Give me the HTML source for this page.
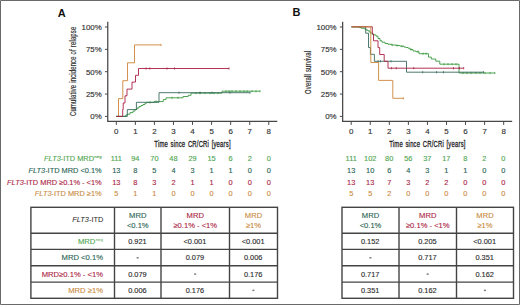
<!DOCTYPE html>
<html><head><meta charset="utf-8"><style>
html,body{margin:0;padding:0;background:#fff;}
body{width:520px;height:305px;overflow:hidden;}
svg{display:block;}
</style></head><body>
<svg width="520" height="305" viewBox="0 0 520 305">
<rect x="0" y="0" width="520" height="305" fill="#fff"/>
<path d="M107.75,21.8V121.3H277.28" fill="none" stroke="#474747" stroke-width="1.25"/>
<path d="M104.95,116.40H107.75" stroke="#474747" stroke-width="1.0"/>
<text x="101.75" y="119.30" text-anchor="end" font-size="7.9" fill="#333" stroke="#333" stroke-width="0.15" font-family="'Liberation Sans', sans-serif">0%</text>
<path d="M104.95,94.05H107.75" stroke="#474747" stroke-width="1.0"/>
<text x="101.75" y="96.95" text-anchor="end" font-size="7.9" fill="#333" stroke="#333" stroke-width="0.15" font-family="'Liberation Sans', sans-serif">25%</text>
<path d="M104.95,71.70H107.75" stroke="#474747" stroke-width="1.0"/>
<text x="101.75" y="74.60" text-anchor="end" font-size="7.9" fill="#333" stroke="#333" stroke-width="0.15" font-family="'Liberation Sans', sans-serif">50%</text>
<path d="M104.95,49.35H107.75" stroke="#474747" stroke-width="1.0"/>
<text x="101.75" y="52.25" text-anchor="end" font-size="7.9" fill="#333" stroke="#333" stroke-width="0.15" font-family="'Liberation Sans', sans-serif">75%</text>
<path d="M104.95,27.00H107.75" stroke="#474747" stroke-width="1.0"/>
<text x="101.75" y="29.90" text-anchor="end" font-size="7.9" fill="#333" stroke="#333" stroke-width="0.15" font-family="'Liberation Sans', sans-serif">100%</text>
<path d="M116.30,121.3V124.9" stroke="#474747" stroke-width="1.0"/>
<text x="116.30" y="134.0" text-anchor="middle" font-size="7.9" fill="#333" stroke="#333" stroke-width="0.15" font-family="'Liberation Sans', sans-serif">0</text>
<path d="M135.36,121.3V124.9" stroke="#474747" stroke-width="1.0"/>
<text x="135.36" y="134.0" text-anchor="middle" font-size="7.9" fill="#333" stroke="#333" stroke-width="0.15" font-family="'Liberation Sans', sans-serif">1</text>
<path d="M154.42,121.3V124.9" stroke="#474747" stroke-width="1.0"/>
<text x="154.42" y="134.0" text-anchor="middle" font-size="7.9" fill="#333" stroke="#333" stroke-width="0.15" font-family="'Liberation Sans', sans-serif">2</text>
<path d="M173.48,121.3V124.9" stroke="#474747" stroke-width="1.0"/>
<text x="173.48" y="134.0" text-anchor="middle" font-size="7.9" fill="#333" stroke="#333" stroke-width="0.15" font-family="'Liberation Sans', sans-serif">3</text>
<path d="M192.54,121.3V124.9" stroke="#474747" stroke-width="1.0"/>
<text x="192.54" y="134.0" text-anchor="middle" font-size="7.9" fill="#333" stroke="#333" stroke-width="0.15" font-family="'Liberation Sans', sans-serif">4</text>
<path d="M211.60,121.3V124.9" stroke="#474747" stroke-width="1.0"/>
<text x="211.60" y="134.0" text-anchor="middle" font-size="7.9" fill="#333" stroke="#333" stroke-width="0.15" font-family="'Liberation Sans', sans-serif">5</text>
<path d="M230.66,121.3V124.9" stroke="#474747" stroke-width="1.0"/>
<text x="230.66" y="134.0" text-anchor="middle" font-size="7.9" fill="#333" stroke="#333" stroke-width="0.15" font-family="'Liberation Sans', sans-serif">6</text>
<path d="M249.72,121.3V124.9" stroke="#474747" stroke-width="1.0"/>
<text x="249.72" y="134.0" text-anchor="middle" font-size="7.9" fill="#333" stroke="#333" stroke-width="0.15" font-family="'Liberation Sans', sans-serif">7</text>
<path d="M268.78,121.3V124.9" stroke="#474747" stroke-width="1.0"/>
<text x="268.78" y="134.0" text-anchor="middle" font-size="7.9" fill="#333" stroke="#333" stroke-width="0.15" font-family="'Liberation Sans', sans-serif">8</text>
<text transform="translate(192.54,146.5) scale(0.68,1)" text-anchor="middle" font-size="8.7" letter-spacing="0.3" word-spacing="1.0" fill="#222" stroke="#222" stroke-width="0.3" font-family="'Liberation Sans', sans-serif">Time since CR/CRi [years]</text>
<text transform="translate(76.45,71.3) rotate(-90) scale(0.68,1)" text-anchor="middle" font-size="8.7" letter-spacing="0.25" word-spacing="0.2" fill="#2a2a2a" stroke="#2a2a2a" stroke-width="0.15" font-family="'Liberation Sans', sans-serif">Cumulative incidence of relapse</text>
<path d="M116.3,116.4H118.5V98.6H122.8V80.7H127.5V62.8H134.5V44.9H161" fill="none" stroke="#cd8639" stroke-width="0.9" stroke-linejoin="miter" stroke-linecap="butt"/>
<path d="M161,43.8V46.0" stroke="#cd8639" stroke-width="0.8"/>
<path d="M116.3,116.4H125.7V115.2H127V114.2H130V112.6H133V111H135V109.5H137V108H139V106.6H141V105.5H143V104.5H145V103.2H146.5V102.4H154V101.6H163.3V99.6H166V97.8H183V96.5H188.2V95.3H191V93.1H222V91.2H260" fill="none" stroke="#3a9a40" stroke-width="0.9" stroke-linejoin="miter" stroke-linecap="butt"/>
<path d="M150,101.30000000000001V103.5" stroke="#3a9a40" stroke-width="0.8"/><path d="M156,100.5V102.69999999999999" stroke="#3a9a40" stroke-width="0.8"/><path d="M172,96.7V98.89999999999999" stroke="#3a9a40" stroke-width="0.8"/><path d="M178,96.7V98.89999999999999" stroke="#3a9a40" stroke-width="0.8"/><path d="M196,92.0V94.19999999999999" stroke="#3a9a40" stroke-width="0.8"/><path d="M200,92.0V94.19999999999999" stroke="#3a9a40" stroke-width="0.8"/><path d="M205,92.0V94.19999999999999" stroke="#3a9a40" stroke-width="0.8"/><path d="M210,92.0V94.19999999999999" stroke="#3a9a40" stroke-width="0.8"/><path d="M214,92.0V94.19999999999999" stroke="#3a9a40" stroke-width="0.8"/><path d="M218,92.0V94.19999999999999" stroke="#3a9a40" stroke-width="0.8"/><path d="M226,90.10000000000001V92.3" stroke="#3a9a40" stroke-width="0.8"/><path d="M229,90.10000000000001V92.3" stroke="#3a9a40" stroke-width="0.8"/><path d="M232,90.10000000000001V92.3" stroke="#3a9a40" stroke-width="0.8"/><path d="M236,90.10000000000001V92.3" stroke="#3a9a40" stroke-width="0.8"/><path d="M240,90.10000000000001V92.3" stroke="#3a9a40" stroke-width="0.8"/><path d="M244,90.10000000000001V92.3" stroke="#3a9a40" stroke-width="0.8"/><path d="M247,90.10000000000001V92.3" stroke="#3a9a40" stroke-width="0.8"/><path d="M252,90.10000000000001V92.3" stroke="#3a9a40" stroke-width="0.8"/><path d="M256,90.10000000000001V92.3" stroke="#3a9a40" stroke-width="0.8"/><path d="M260,90.10000000000001V92.3" stroke="#3a9a40" stroke-width="0.8"/>
<path d="M116.3,116.4H127.3V109.6H136.4V102.3H159V92.7H250" fill="none" stroke="#3a6b60" stroke-width="0.9" stroke-linejoin="miter" stroke-linecap="butt"/>
<path d="M179,91.60000000000001V93.8" stroke="#3a6b60" stroke-width="0.8"/><path d="M200,91.60000000000001V93.8" stroke="#3a6b60" stroke-width="0.8"/><path d="M212,91.60000000000001V93.8" stroke="#3a6b60" stroke-width="0.8"/><path d="M230,91.60000000000001V93.8" stroke="#3a6b60" stroke-width="0.8"/><path d="M250,91.60000000000001V93.8" stroke="#3a6b60" stroke-width="0.8"/>
<path d="M116.3,116.4H122.7V109.5H123.2V103.0H125V95.8H127V89.1H132V82.1H135.5V75.3H138.5V68.5H229" fill="none" stroke="#aa1f45" stroke-width="0.9" stroke-linejoin="miter" stroke-linecap="butt"/>
<path d="M146,67.4V69.6" stroke="#aa1f45" stroke-width="0.8"/><path d="M149.8,67.4V69.6" stroke="#aa1f45" stroke-width="0.8"/><path d="M167,67.4V69.6" stroke="#aa1f45" stroke-width="0.8"/><path d="M174.5,67.4V69.6" stroke="#aa1f45" stroke-width="0.8"/><path d="M229,67.4V69.6" stroke="#aa1f45" stroke-width="0.8"/>
<path d="M342.65,21.8V121.3H512.18" fill="none" stroke="#474747" stroke-width="1.25"/>
<path d="M339.84999999999997,116.40H342.65" stroke="#474747" stroke-width="1.0"/>
<text x="336.65" y="119.30" text-anchor="end" font-size="7.9" fill="#333" stroke="#333" stroke-width="0.15" font-family="'Liberation Sans', sans-serif">0%</text>
<path d="M339.84999999999997,94.05H342.65" stroke="#474747" stroke-width="1.0"/>
<text x="336.65" y="96.95" text-anchor="end" font-size="7.9" fill="#333" stroke="#333" stroke-width="0.15" font-family="'Liberation Sans', sans-serif">25%</text>
<path d="M339.84999999999997,71.70H342.65" stroke="#474747" stroke-width="1.0"/>
<text x="336.65" y="74.60" text-anchor="end" font-size="7.9" fill="#333" stroke="#333" stroke-width="0.15" font-family="'Liberation Sans', sans-serif">50%</text>
<path d="M339.84999999999997,49.35H342.65" stroke="#474747" stroke-width="1.0"/>
<text x="336.65" y="52.25" text-anchor="end" font-size="7.9" fill="#333" stroke="#333" stroke-width="0.15" font-family="'Liberation Sans', sans-serif">75%</text>
<path d="M339.84999999999997,27.00H342.65" stroke="#474747" stroke-width="1.0"/>
<text x="336.65" y="29.90" text-anchor="end" font-size="7.9" fill="#333" stroke="#333" stroke-width="0.15" font-family="'Liberation Sans', sans-serif">100%</text>
<path d="M351.20,121.3V124.9" stroke="#474747" stroke-width="1.0"/>
<text x="351.20" y="134.0" text-anchor="middle" font-size="7.9" fill="#333" stroke="#333" stroke-width="0.15" font-family="'Liberation Sans', sans-serif">0</text>
<path d="M370.26,121.3V124.9" stroke="#474747" stroke-width="1.0"/>
<text x="370.26" y="134.0" text-anchor="middle" font-size="7.9" fill="#333" stroke="#333" stroke-width="0.15" font-family="'Liberation Sans', sans-serif">1</text>
<path d="M389.32,121.3V124.9" stroke="#474747" stroke-width="1.0"/>
<text x="389.32" y="134.0" text-anchor="middle" font-size="7.9" fill="#333" stroke="#333" stroke-width="0.15" font-family="'Liberation Sans', sans-serif">2</text>
<path d="M408.38,121.3V124.9" stroke="#474747" stroke-width="1.0"/>
<text x="408.38" y="134.0" text-anchor="middle" font-size="7.9" fill="#333" stroke="#333" stroke-width="0.15" font-family="'Liberation Sans', sans-serif">3</text>
<path d="M427.44,121.3V124.9" stroke="#474747" stroke-width="1.0"/>
<text x="427.44" y="134.0" text-anchor="middle" font-size="7.9" fill="#333" stroke="#333" stroke-width="0.15" font-family="'Liberation Sans', sans-serif">4</text>
<path d="M446.50,121.3V124.9" stroke="#474747" stroke-width="1.0"/>
<text x="446.50" y="134.0" text-anchor="middle" font-size="7.9" fill="#333" stroke="#333" stroke-width="0.15" font-family="'Liberation Sans', sans-serif">5</text>
<path d="M465.56,121.3V124.9" stroke="#474747" stroke-width="1.0"/>
<text x="465.56" y="134.0" text-anchor="middle" font-size="7.9" fill="#333" stroke="#333" stroke-width="0.15" font-family="'Liberation Sans', sans-serif">6</text>
<path d="M484.62,121.3V124.9" stroke="#474747" stroke-width="1.0"/>
<text x="484.62" y="134.0" text-anchor="middle" font-size="7.9" fill="#333" stroke="#333" stroke-width="0.15" font-family="'Liberation Sans', sans-serif">7</text>
<path d="M503.68,121.3V124.9" stroke="#474747" stroke-width="1.0"/>
<text x="503.68" y="134.0" text-anchor="middle" font-size="7.9" fill="#333" stroke="#333" stroke-width="0.15" font-family="'Liberation Sans', sans-serif">8</text>
<text transform="translate(427.44,146.5) scale(0.68,1)" text-anchor="middle" font-size="8.7" letter-spacing="0.3" word-spacing="1.0" fill="#222" stroke="#222" stroke-width="0.3" font-family="'Liberation Sans', sans-serif">Time since CR/CRi [years]</text>
<text transform="translate(311.35,72.3) rotate(-90) scale(0.68,1)" text-anchor="middle" font-size="8.7" letter-spacing="0.25" word-spacing="0.2" fill="#2a2a2a" stroke="#2a2a2a" stroke-width="0.15" font-family="'Liberation Sans', sans-serif">Overall survival</text>
<path d="M351.5,26.8H359V27.4H361V28.2H364V28.8H366V30H368V31H370V33H372.5V34.5H374V34.9H376V36.2H378V38.5H380V40.8H382V42.2H385V43.5H388V44.3H392V45H396V45.5H400V46.2H404V47H406V47.5H408V48.2H410V49.5H413V51H416V51.7H419V53.7H428.5V57.1H431.3V59H435.8V61.2H439.8V64.2H459V73H494.8" fill="none" stroke="#3a9a40" stroke-width="0.9" stroke-linejoin="miter" stroke-linecap="butt"/>
<path d="M392,43.9V46.1" stroke="#3a9a40" stroke-width="0.8"/><path d="M397,44.4V46.6" stroke="#3a9a40" stroke-width="0.8"/><path d="M402,45.1V47.300000000000004" stroke="#3a9a40" stroke-width="0.8"/><path d="M411,48.4V50.6" stroke="#3a9a40" stroke-width="0.8"/><path d="M418,50.6V52.800000000000004" stroke="#3a9a40" stroke-width="0.8"/><path d="M423,52.6V54.800000000000004" stroke="#3a9a40" stroke-width="0.8"/><path d="M426,52.6V54.800000000000004" stroke="#3a9a40" stroke-width="0.8"/><path d="M444,63.1V65.3" stroke="#3a9a40" stroke-width="0.8"/><path d="M448,63.1V65.3" stroke="#3a9a40" stroke-width="0.8"/><path d="M452,63.1V65.3" stroke="#3a9a40" stroke-width="0.8"/><path d="M456,63.1V65.3" stroke="#3a9a40" stroke-width="0.8"/><path d="M463,71.9V74.1" stroke="#3a9a40" stroke-width="0.8"/><path d="M467,71.9V74.1" stroke="#3a9a40" stroke-width="0.8"/><path d="M471,71.9V74.1" stroke="#3a9a40" stroke-width="0.8"/><path d="M476,71.9V74.1" stroke="#3a9a40" stroke-width="0.8"/><path d="M480,71.9V74.1" stroke="#3a9a40" stroke-width="0.8"/><path d="M485,71.9V74.1" stroke="#3a9a40" stroke-width="0.8"/><path d="M490,71.9V74.1" stroke="#3a9a40" stroke-width="0.8"/><path d="M494.8,71.9V74.1" stroke="#3a9a40" stroke-width="0.8"/>
<path d="M351.5,26.8H365.7V33.2H368.5V47.5H370.4V54.3H374.4V61.3H406.5V72.2H483.5" fill="none" stroke="#3a6b60" stroke-width="0.9" stroke-linejoin="miter" stroke-linecap="butt"/>
<path d="M378.2,60.199999999999996V62.4" stroke="#3a6b60" stroke-width="0.8"/><path d="M380.5,60.199999999999996V62.4" stroke="#3a6b60" stroke-width="0.8"/><path d="M391,60.199999999999996V62.4" stroke="#3a6b60" stroke-width="0.8"/><path d="M422.7,71.10000000000001V73.3" stroke="#3a6b60" stroke-width="0.8"/><path d="M436.5,71.10000000000001V73.3" stroke="#3a6b60" stroke-width="0.8"/><path d="M443.5,71.10000000000001V73.3" stroke="#3a6b60" stroke-width="0.8"/><path d="M483.5,71.10000000000001V73.3" stroke="#3a6b60" stroke-width="0.8"/>
<path d="M351.5,26.8H372.3V33.9H373.5V40.8H378V47.6H379.7V54.5H384.2V61.3H388V68.2H463.7" fill="none" stroke="#aa1f45" stroke-width="0.9" stroke-linejoin="miter" stroke-linecap="butt"/>
<path d="M391.4,67.10000000000001V69.3" stroke="#aa1f45" stroke-width="0.8"/><path d="M396.3,67.10000000000001V69.3" stroke="#aa1f45" stroke-width="0.8"/><path d="M413.8,67.10000000000001V69.3" stroke="#aa1f45" stroke-width="0.8"/><path d="M453.5,67.10000000000001V69.3" stroke="#aa1f45" stroke-width="0.8"/><path d="M459.5,67.10000000000001V69.3" stroke="#aa1f45" stroke-width="0.8"/><path d="M463.7,67.10000000000001V69.3" stroke="#aa1f45" stroke-width="0.8"/>
<path d="M351.5,26.8H370.8V62.5H378.6V80.4H392.8V98.3H403.4" fill="none" stroke="#cd8639" stroke-width="0.9" stroke-linejoin="miter" stroke-linecap="butt"/>
<path d="M403.4,97.2V99.39999999999999" stroke="#cd8639" stroke-width="0.8"/>
<text x="57.7" y="16.5" font-size="11" font-weight="bold" fill="#111" font-family="'Liberation Sans', sans-serif">A</text>
<text x="292.4" y="16.3" font-size="11" font-weight="bold" fill="#111" font-family="'Liberation Sans', sans-serif">B</text>
<text x="101.6" y="161.45" text-anchor="end" font-size="7.4" fill="#4ea64e" stroke="#4ea64e" stroke-width="0.12" font-family="'Liberation Sans', sans-serif"><tspan font-style="italic">FLT3</tspan>-ITD MRD<tspan font-size="4.4" dy="-3" dx="0.2">neg</tspan></text>
<text x="116.30" y="161.45" text-anchor="middle" font-size="7.4" fill="#4ea64e" stroke="#4ea64e" stroke-width="0.12" font-family="'Liberation Sans', sans-serif">111</text>
<text x="135.36" y="161.45" text-anchor="middle" font-size="7.4" fill="#4ea64e" stroke="#4ea64e" stroke-width="0.12" font-family="'Liberation Sans', sans-serif">94</text>
<text x="154.42" y="161.45" text-anchor="middle" font-size="7.4" fill="#4ea64e" stroke="#4ea64e" stroke-width="0.12" font-family="'Liberation Sans', sans-serif">70</text>
<text x="173.48" y="161.45" text-anchor="middle" font-size="7.4" fill="#4ea64e" stroke="#4ea64e" stroke-width="0.12" font-family="'Liberation Sans', sans-serif">48</text>
<text x="192.54" y="161.45" text-anchor="middle" font-size="7.4" fill="#4ea64e" stroke="#4ea64e" stroke-width="0.12" font-family="'Liberation Sans', sans-serif">29</text>
<text x="211.60" y="161.45" text-anchor="middle" font-size="7.4" fill="#4ea64e" stroke="#4ea64e" stroke-width="0.12" font-family="'Liberation Sans', sans-serif">15</text>
<text x="230.66" y="161.45" text-anchor="middle" font-size="7.4" fill="#4ea64e" stroke="#4ea64e" stroke-width="0.12" font-family="'Liberation Sans', sans-serif">6</text>
<text x="249.72" y="161.45" text-anchor="middle" font-size="7.4" fill="#4ea64e" stroke="#4ea64e" stroke-width="0.12" font-family="'Liberation Sans', sans-serif">2</text>
<text x="268.78" y="161.45" text-anchor="middle" font-size="7.4" fill="#4ea64e" stroke="#4ea64e" stroke-width="0.12" font-family="'Liberation Sans', sans-serif">0</text>
<text x="351.20" y="161.45" text-anchor="middle" font-size="7.4" fill="#4ea64e" stroke="#4ea64e" stroke-width="0.12" font-family="'Liberation Sans', sans-serif">111</text>
<text x="370.22" y="161.45" text-anchor="middle" font-size="7.4" fill="#4ea64e" stroke="#4ea64e" stroke-width="0.12" font-family="'Liberation Sans', sans-serif">102</text>
<text x="389.24" y="161.45" text-anchor="middle" font-size="7.4" fill="#4ea64e" stroke="#4ea64e" stroke-width="0.12" font-family="'Liberation Sans', sans-serif">80</text>
<text x="408.26" y="161.45" text-anchor="middle" font-size="7.4" fill="#4ea64e" stroke="#4ea64e" stroke-width="0.12" font-family="'Liberation Sans', sans-serif">56</text>
<text x="427.28" y="161.45" text-anchor="middle" font-size="7.4" fill="#4ea64e" stroke="#4ea64e" stroke-width="0.12" font-family="'Liberation Sans', sans-serif">37</text>
<text x="446.30" y="161.45" text-anchor="middle" font-size="7.4" fill="#4ea64e" stroke="#4ea64e" stroke-width="0.12" font-family="'Liberation Sans', sans-serif">17</text>
<text x="465.32" y="161.45" text-anchor="middle" font-size="7.4" fill="#4ea64e" stroke="#4ea64e" stroke-width="0.12" font-family="'Liberation Sans', sans-serif">8</text>
<text x="484.34" y="161.45" text-anchor="middle" font-size="7.4" fill="#4ea64e" stroke="#4ea64e" stroke-width="0.12" font-family="'Liberation Sans', sans-serif">2</text>
<text x="503.36" y="161.45" text-anchor="middle" font-size="7.4" fill="#4ea64e" stroke="#4ea64e" stroke-width="0.12" font-family="'Liberation Sans', sans-serif">0</text>
<text x="101.6" y="172.95" text-anchor="end" font-size="7.4" fill="#276352" stroke="#276352" stroke-width="0.12" font-family="'Liberation Sans', sans-serif"><tspan font-style="italic">FLT3</tspan>-ITD MRD &lt;0.1%</text>
<text x="116.30" y="172.95" text-anchor="middle" font-size="7.4" fill="#276352" stroke="#276352" stroke-width="0.12" font-family="'Liberation Sans', sans-serif">13</text>
<text x="135.36" y="172.95" text-anchor="middle" font-size="7.4" fill="#276352" stroke="#276352" stroke-width="0.12" font-family="'Liberation Sans', sans-serif">8</text>
<text x="154.42" y="172.95" text-anchor="middle" font-size="7.4" fill="#276352" stroke="#276352" stroke-width="0.12" font-family="'Liberation Sans', sans-serif">5</text>
<text x="173.48" y="172.95" text-anchor="middle" font-size="7.4" fill="#276352" stroke="#276352" stroke-width="0.12" font-family="'Liberation Sans', sans-serif">4</text>
<text x="192.54" y="172.95" text-anchor="middle" font-size="7.4" fill="#276352" stroke="#276352" stroke-width="0.12" font-family="'Liberation Sans', sans-serif">3</text>
<text x="211.60" y="172.95" text-anchor="middle" font-size="7.4" fill="#276352" stroke="#276352" stroke-width="0.12" font-family="'Liberation Sans', sans-serif">1</text>
<text x="230.66" y="172.95" text-anchor="middle" font-size="7.4" fill="#276352" stroke="#276352" stroke-width="0.12" font-family="'Liberation Sans', sans-serif">1</text>
<text x="249.72" y="172.95" text-anchor="middle" font-size="7.4" fill="#276352" stroke="#276352" stroke-width="0.12" font-family="'Liberation Sans', sans-serif">0</text>
<text x="268.78" y="172.95" text-anchor="middle" font-size="7.4" fill="#276352" stroke="#276352" stroke-width="0.12" font-family="'Liberation Sans', sans-serif">0</text>
<text x="351.20" y="172.95" text-anchor="middle" font-size="7.4" fill="#276352" stroke="#276352" stroke-width="0.12" font-family="'Liberation Sans', sans-serif">13</text>
<text x="370.22" y="172.95" text-anchor="middle" font-size="7.4" fill="#276352" stroke="#276352" stroke-width="0.12" font-family="'Liberation Sans', sans-serif">10</text>
<text x="389.24" y="172.95" text-anchor="middle" font-size="7.4" fill="#276352" stroke="#276352" stroke-width="0.12" font-family="'Liberation Sans', sans-serif">6</text>
<text x="408.26" y="172.95" text-anchor="middle" font-size="7.4" fill="#276352" stroke="#276352" stroke-width="0.12" font-family="'Liberation Sans', sans-serif">4</text>
<text x="427.28" y="172.95" text-anchor="middle" font-size="7.4" fill="#276352" stroke="#276352" stroke-width="0.12" font-family="'Liberation Sans', sans-serif">3</text>
<text x="446.30" y="172.95" text-anchor="middle" font-size="7.4" fill="#276352" stroke="#276352" stroke-width="0.12" font-family="'Liberation Sans', sans-serif">1</text>
<text x="465.32" y="172.95" text-anchor="middle" font-size="7.4" fill="#276352" stroke="#276352" stroke-width="0.12" font-family="'Liberation Sans', sans-serif">1</text>
<text x="484.34" y="172.95" text-anchor="middle" font-size="7.4" fill="#276352" stroke="#276352" stroke-width="0.12" font-family="'Liberation Sans', sans-serif">0</text>
<text x="503.36" y="172.95" text-anchor="middle" font-size="7.4" fill="#276352" stroke="#276352" stroke-width="0.12" font-family="'Liberation Sans', sans-serif">0</text>
<text x="101.6" y="184.65" text-anchor="end" font-size="7.4" fill="#ab2443" stroke="#ab2443" stroke-width="0.12" font-family="'Liberation Sans', sans-serif"><tspan font-style="italic">FLT3</tspan>-ITD MRD ≥0.1% - &lt;1%</text>
<text x="116.30" y="184.65" text-anchor="middle" font-size="7.4" fill="#ab2443" stroke="#ab2443" stroke-width="0.12" font-family="'Liberation Sans', sans-serif">13</text>
<text x="135.36" y="184.65" text-anchor="middle" font-size="7.4" fill="#ab2443" stroke="#ab2443" stroke-width="0.12" font-family="'Liberation Sans', sans-serif">8</text>
<text x="154.42" y="184.65" text-anchor="middle" font-size="7.4" fill="#ab2443" stroke="#ab2443" stroke-width="0.12" font-family="'Liberation Sans', sans-serif">3</text>
<text x="173.48" y="184.65" text-anchor="middle" font-size="7.4" fill="#ab2443" stroke="#ab2443" stroke-width="0.12" font-family="'Liberation Sans', sans-serif">2</text>
<text x="192.54" y="184.65" text-anchor="middle" font-size="7.4" fill="#ab2443" stroke="#ab2443" stroke-width="0.12" font-family="'Liberation Sans', sans-serif">1</text>
<text x="211.60" y="184.65" text-anchor="middle" font-size="7.4" fill="#ab2443" stroke="#ab2443" stroke-width="0.12" font-family="'Liberation Sans', sans-serif">1</text>
<text x="230.66" y="184.65" text-anchor="middle" font-size="7.4" fill="#ab2443" stroke="#ab2443" stroke-width="0.12" font-family="'Liberation Sans', sans-serif">0</text>
<text x="249.72" y="184.65" text-anchor="middle" font-size="7.4" fill="#ab2443" stroke="#ab2443" stroke-width="0.12" font-family="'Liberation Sans', sans-serif">0</text>
<text x="268.78" y="184.65" text-anchor="middle" font-size="7.4" fill="#ab2443" stroke="#ab2443" stroke-width="0.12" font-family="'Liberation Sans', sans-serif">0</text>
<text x="351.20" y="184.65" text-anchor="middle" font-size="7.4" fill="#ab2443" stroke="#ab2443" stroke-width="0.12" font-family="'Liberation Sans', sans-serif">13</text>
<text x="370.22" y="184.65" text-anchor="middle" font-size="7.4" fill="#ab2443" stroke="#ab2443" stroke-width="0.12" font-family="'Liberation Sans', sans-serif">13</text>
<text x="389.24" y="184.65" text-anchor="middle" font-size="7.4" fill="#ab2443" stroke="#ab2443" stroke-width="0.12" font-family="'Liberation Sans', sans-serif">7</text>
<text x="408.26" y="184.65" text-anchor="middle" font-size="7.4" fill="#ab2443" stroke="#ab2443" stroke-width="0.12" font-family="'Liberation Sans', sans-serif">3</text>
<text x="427.28" y="184.65" text-anchor="middle" font-size="7.4" fill="#ab2443" stroke="#ab2443" stroke-width="0.12" font-family="'Liberation Sans', sans-serif">2</text>
<text x="446.30" y="184.65" text-anchor="middle" font-size="7.4" fill="#ab2443" stroke="#ab2443" stroke-width="0.12" font-family="'Liberation Sans', sans-serif">2</text>
<text x="465.32" y="184.65" text-anchor="middle" font-size="7.4" fill="#ab2443" stroke="#ab2443" stroke-width="0.12" font-family="'Liberation Sans', sans-serif">0</text>
<text x="484.34" y="184.65" text-anchor="middle" font-size="7.4" fill="#ab2443" stroke="#ab2443" stroke-width="0.12" font-family="'Liberation Sans', sans-serif">0</text>
<text x="503.36" y="184.65" text-anchor="middle" font-size="7.4" fill="#ab2443" stroke="#ab2443" stroke-width="0.12" font-family="'Liberation Sans', sans-serif">0</text>
<text x="101.6" y="196.35" text-anchor="end" font-size="7.4" fill="#c98a42" stroke="#c98a42" stroke-width="0.12" font-family="'Liberation Sans', sans-serif"><tspan font-style="italic">FLT3</tspan>-ITD MRD ≥1%</text>
<text x="116.30" y="196.35" text-anchor="middle" font-size="7.4" fill="#c98a42" stroke="#c98a42" stroke-width="0.12" font-family="'Liberation Sans', sans-serif">5</text>
<text x="135.36" y="196.35" text-anchor="middle" font-size="7.4" fill="#c98a42" stroke="#c98a42" stroke-width="0.12" font-family="'Liberation Sans', sans-serif">1</text>
<text x="154.42" y="196.35" text-anchor="middle" font-size="7.4" fill="#c98a42" stroke="#c98a42" stroke-width="0.12" font-family="'Liberation Sans', sans-serif">1</text>
<text x="173.48" y="196.35" text-anchor="middle" font-size="7.4" fill="#c98a42" stroke="#c98a42" stroke-width="0.12" font-family="'Liberation Sans', sans-serif">0</text>
<text x="192.54" y="196.35" text-anchor="middle" font-size="7.4" fill="#c98a42" stroke="#c98a42" stroke-width="0.12" font-family="'Liberation Sans', sans-serif">0</text>
<text x="211.60" y="196.35" text-anchor="middle" font-size="7.4" fill="#c98a42" stroke="#c98a42" stroke-width="0.12" font-family="'Liberation Sans', sans-serif">0</text>
<text x="230.66" y="196.35" text-anchor="middle" font-size="7.4" fill="#c98a42" stroke="#c98a42" stroke-width="0.12" font-family="'Liberation Sans', sans-serif">0</text>
<text x="249.72" y="196.35" text-anchor="middle" font-size="7.4" fill="#c98a42" stroke="#c98a42" stroke-width="0.12" font-family="'Liberation Sans', sans-serif">0</text>
<text x="268.78" y="196.35" text-anchor="middle" font-size="7.4" fill="#c98a42" stroke="#c98a42" stroke-width="0.12" font-family="'Liberation Sans', sans-serif">0</text>
<text x="351.20" y="196.35" text-anchor="middle" font-size="7.4" fill="#c98a42" stroke="#c98a42" stroke-width="0.12" font-family="'Liberation Sans', sans-serif">5</text>
<text x="370.22" y="196.35" text-anchor="middle" font-size="7.4" fill="#c98a42" stroke="#c98a42" stroke-width="0.12" font-family="'Liberation Sans', sans-serif">5</text>
<text x="389.24" y="196.35" text-anchor="middle" font-size="7.4" fill="#c98a42" stroke="#c98a42" stroke-width="0.12" font-family="'Liberation Sans', sans-serif">2</text>
<text x="408.26" y="196.35" text-anchor="middle" font-size="7.4" fill="#c98a42" stroke="#c98a42" stroke-width="0.12" font-family="'Liberation Sans', sans-serif">0</text>
<text x="427.28" y="196.35" text-anchor="middle" font-size="7.4" fill="#c98a42" stroke="#c98a42" stroke-width="0.12" font-family="'Liberation Sans', sans-serif">0</text>
<text x="446.30" y="196.35" text-anchor="middle" font-size="7.4" fill="#c98a42" stroke="#c98a42" stroke-width="0.12" font-family="'Liberation Sans', sans-serif">0</text>
<text x="465.32" y="196.35" text-anchor="middle" font-size="7.4" fill="#c98a42" stroke="#c98a42" stroke-width="0.12" font-family="'Liberation Sans', sans-serif">0</text>
<text x="484.34" y="196.35" text-anchor="middle" font-size="7.4" fill="#c98a42" stroke="#c98a42" stroke-width="0.12" font-family="'Liberation Sans', sans-serif">0</text>
<text x="503.36" y="196.35" text-anchor="middle" font-size="7.4" fill="#c98a42" stroke="#c98a42" stroke-width="0.12" font-family="'Liberation Sans', sans-serif">0</text>
<rect x="30.9" y="207.3" width="246.6" height="91.0" fill="none" stroke="#444" stroke-width="1.4"/>
<path d="M114.5,207.3V298.3" stroke="#444" stroke-width="1.4"/>
<path d="M161.0,207.3V298.3" stroke="#444" stroke-width="1.4"/>
<path d="M229.5,207.3V298.3" stroke="#444" stroke-width="1.4"/>
<path d="M30.9,233.3H277.5" stroke="#444" stroke-width="1.4"/>
<path d="M30.9,249.4H277.5" stroke="#444" stroke-width="1.4"/>
<path d="M30.9,265.8H277.5" stroke="#444" stroke-width="1.4"/>
<path d="M30.9,282.1H277.5" stroke="#444" stroke-width="1.4"/>
<rect x="342.0" y="207.3" width="171.5" height="91.0" fill="none" stroke="#444" stroke-width="1.4"/>
<path d="M399.0,207.3V298.3" stroke="#444" stroke-width="1.4"/>
<path d="M456.5,207.3V298.3" stroke="#444" stroke-width="1.4"/>
<path d="M342.0,233.3H513.5" stroke="#444" stroke-width="1.4"/>
<path d="M342.0,249.4H513.5" stroke="#444" stroke-width="1.4"/>
<path d="M342.0,265.8H513.5" stroke="#444" stroke-width="1.4"/>
<path d="M342.0,282.1H513.5" stroke="#444" stroke-width="1.4"/>
<text x="137.75" y="218.20" text-anchor="middle" font-size="7.6" fill="#276352" stroke="#276352" stroke-width="0.12" font-family="'Liberation Sans', sans-serif">MRD</text>
<text x="137.75" y="228.40" text-anchor="middle" font-size="7.6" fill="#276352" stroke="#276352" stroke-width="0.12" font-family="'Liberation Sans', sans-serif">&lt;0.1%</text>
<text x="195.25" y="218.20" text-anchor="middle" font-size="7.6" fill="#ab2443" stroke="#ab2443" stroke-width="0.12" font-family="'Liberation Sans', sans-serif">MRD</text>
<text x="195.25" y="228.40" text-anchor="middle" font-size="7.6" fill="#ab2443" stroke="#ab2443" stroke-width="0.12" font-family="'Liberation Sans', sans-serif">≥0.1% - &lt;1%</text>
<text x="253.50" y="218.20" text-anchor="middle" font-size="7.6" fill="#c98a42" stroke="#c98a42" stroke-width="0.12" font-family="'Liberation Sans', sans-serif">MRD</text>
<text x="253.50" y="228.40" text-anchor="middle" font-size="7.6" fill="#c98a42" stroke="#c98a42" stroke-width="0.12" font-family="'Liberation Sans', sans-serif">≥1%</text>
<text x="370.50" y="218.20" text-anchor="middle" font-size="7.6" fill="#276352" stroke="#276352" stroke-width="0.12" font-family="'Liberation Sans', sans-serif">MRD</text>
<text x="370.50" y="228.40" text-anchor="middle" font-size="7.6" fill="#276352" stroke="#276352" stroke-width="0.12" font-family="'Liberation Sans', sans-serif">&lt;0.1%</text>
<text x="427.75" y="218.20" text-anchor="middle" font-size="7.6" fill="#ab2443" stroke="#ab2443" stroke-width="0.12" font-family="'Liberation Sans', sans-serif">MRD</text>
<text x="427.75" y="228.40" text-anchor="middle" font-size="7.6" fill="#ab2443" stroke="#ab2443" stroke-width="0.12" font-family="'Liberation Sans', sans-serif">≥0.1% - &lt;1%</text>
<text x="485.00" y="218.20" text-anchor="middle" font-size="7.6" fill="#c98a42" stroke="#c98a42" stroke-width="0.12" font-family="'Liberation Sans', sans-serif">MRD</text>
<text x="485.00" y="228.40" text-anchor="middle" font-size="7.6" fill="#c98a42" stroke="#c98a42" stroke-width="0.12" font-family="'Liberation Sans', sans-serif">≥1%</text>
<text x="103.3" y="222.4" text-anchor="end" font-size="7.4" fill="#222" font-family="'Liberation Sans', sans-serif"><tspan font-style="italic">FLT3</tspan>-ITD</text>
<text x="103.00" y="244.15" text-anchor="end" font-size="7.65" fill="#4ea64e" stroke="#4ea64e" stroke-width="0.12" font-family="'Liberation Sans', sans-serif">MRD<tspan font-size="4.4" dy="-3" stroke-width="0" dx="0.3">neg</tspan></text>
<text x="137.45" y="243.95" text-anchor="middle" font-size="7.4" fill="#2a2a2a" stroke="#2a2a2a" stroke-width="0.12" font-family="'Liberation Sans', sans-serif">0.921</text>
<text x="370.20" y="243.95" text-anchor="middle" font-size="7.4" fill="#2a2a2a" stroke="#2a2a2a" stroke-width="0.12" font-family="'Liberation Sans', sans-serif">0.152</text>
<text x="194.95" y="243.95" text-anchor="middle" font-size="7.4" fill="#2a2a2a" stroke="#2a2a2a" stroke-width="0.12" font-family="'Liberation Sans', sans-serif">&lt;0.001</text>
<text x="427.45" y="243.95" text-anchor="middle" font-size="7.4" fill="#2a2a2a" stroke="#2a2a2a" stroke-width="0.12" font-family="'Liberation Sans', sans-serif">0.205</text>
<text x="253.20" y="243.95" text-anchor="middle" font-size="7.4" fill="#2a2a2a" stroke="#2a2a2a" stroke-width="0.12" font-family="'Liberation Sans', sans-serif">&lt;0.001</text>
<text x="484.70" y="243.95" text-anchor="middle" font-size="7.4" fill="#2a2a2a" stroke="#2a2a2a" stroke-width="0.12" font-family="'Liberation Sans', sans-serif">&lt;0.001</text>
<text x="103.00" y="260.40" text-anchor="end" font-size="7.65" fill="#276352" stroke="#276352" stroke-width="0.12" font-family="'Liberation Sans', sans-serif">MRD &lt;0.1%</text>
<rect x="136.65" y="257.00" width="2.0" height="1.5" fill="#7a7a7a"/>
<rect x="369.40" y="257.00" width="2.0" height="1.5" fill="#7a7a7a"/>
<text x="194.95" y="260.20" text-anchor="middle" font-size="7.4" fill="#2a2a2a" stroke="#2a2a2a" stroke-width="0.12" font-family="'Liberation Sans', sans-serif">0.079</text>
<text x="427.45" y="260.20" text-anchor="middle" font-size="7.4" fill="#2a2a2a" stroke="#2a2a2a" stroke-width="0.12" font-family="'Liberation Sans', sans-serif">0.717</text>
<text x="253.20" y="260.20" text-anchor="middle" font-size="7.4" fill="#2a2a2a" stroke="#2a2a2a" stroke-width="0.12" font-family="'Liberation Sans', sans-serif">0.006</text>
<text x="484.70" y="260.20" text-anchor="middle" font-size="7.4" fill="#2a2a2a" stroke="#2a2a2a" stroke-width="0.12" font-family="'Liberation Sans', sans-serif">0.351</text>
<text x="103.00" y="276.75" text-anchor="end" font-size="7.65" fill="#ab2443" stroke="#ab2443" stroke-width="0.12" font-family="'Liberation Sans', sans-serif">MRD≥0.1% - &lt;1%</text>
<text x="137.45" y="276.55" text-anchor="middle" font-size="7.4" fill="#2a2a2a" stroke="#2a2a2a" stroke-width="0.12" font-family="'Liberation Sans', sans-serif">0.079</text>
<text x="370.20" y="276.55" text-anchor="middle" font-size="7.4" fill="#2a2a2a" stroke="#2a2a2a" stroke-width="0.12" font-family="'Liberation Sans', sans-serif">0.717</text>
<rect x="194.15" y="273.35" width="2.0" height="1.5" fill="#7a7a7a"/>
<rect x="426.65" y="273.35" width="2.0" height="1.5" fill="#7a7a7a"/>
<text x="253.20" y="276.55" text-anchor="middle" font-size="7.4" fill="#2a2a2a" stroke="#2a2a2a" stroke-width="0.12" font-family="'Liberation Sans', sans-serif">0.176</text>
<text x="484.70" y="276.55" text-anchor="middle" font-size="7.4" fill="#2a2a2a" stroke="#2a2a2a" stroke-width="0.12" font-family="'Liberation Sans', sans-serif">0.162</text>
<text x="103.00" y="293.00" text-anchor="end" font-size="7.65" fill="#c98a42" stroke="#c98a42" stroke-width="0.12" font-family="'Liberation Sans', sans-serif">MRD ≥1%</text>
<text x="137.45" y="292.80" text-anchor="middle" font-size="7.4" fill="#2a2a2a" stroke="#2a2a2a" stroke-width="0.12" font-family="'Liberation Sans', sans-serif">0.006</text>
<text x="370.20" y="292.80" text-anchor="middle" font-size="7.4" fill="#2a2a2a" stroke="#2a2a2a" stroke-width="0.12" font-family="'Liberation Sans', sans-serif">0.351</text>
<text x="194.95" y="292.80" text-anchor="middle" font-size="7.4" fill="#2a2a2a" stroke="#2a2a2a" stroke-width="0.12" font-family="'Liberation Sans', sans-serif">0.176</text>
<text x="427.45" y="292.80" text-anchor="middle" font-size="7.4" fill="#2a2a2a" stroke="#2a2a2a" stroke-width="0.12" font-family="'Liberation Sans', sans-serif">0.162</text>
<rect x="252.40" y="289.60" width="2.0" height="1.5" fill="#7a7a7a"/>
<rect x="483.90" y="289.60" width="2.0" height="1.5" fill="#7a7a7a"/>
<path d="M0.5,0.5H519.5V304.5H0.5Z" fill="none" stroke="#6a6a6a" stroke-width="1"/>
</svg>
</body></html>
